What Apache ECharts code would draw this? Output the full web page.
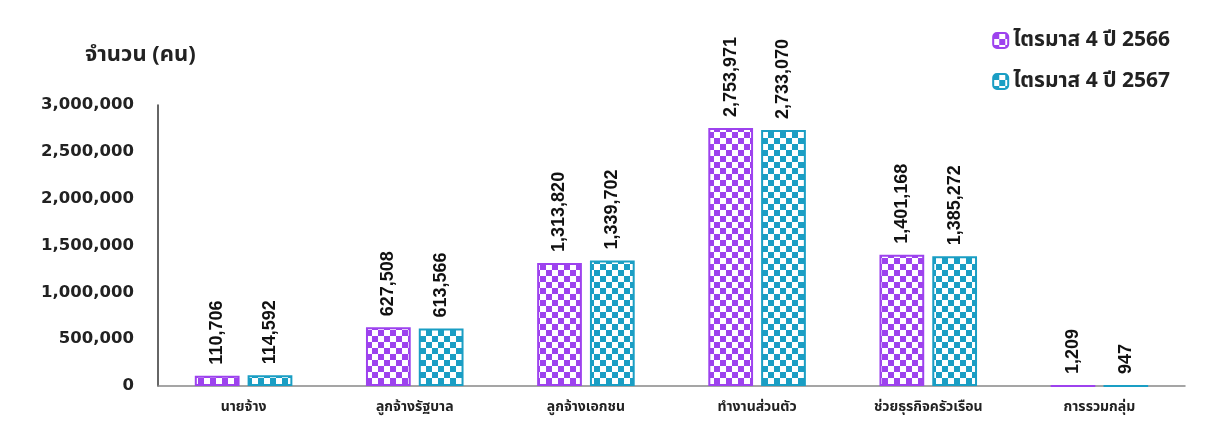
<!DOCTYPE html>
<html><head><meta charset="utf-8">
<script src="https://cdn.jsdelivr.net/npm/echarts@6/dist/echarts.min.js"></script>
<style>html,body{margin:0;padding:0;background:#fff}#c{width:1221px;height:421px}</style>
</head><body><div id="c"></div>
<script>
const categories = ['นายจ้าง','ลูกจ้างรัฐบาล','ลูกจ้างเอกชน','ทำงานส่วนตัว','ช่วยธุรกิจครัวเรือน','การรวมกลุ่ม'];
const seriesNames = ['ไตรมาส 4 ปี 2566','ไตรมาส 4 ปี 2567'];
const values2566 = [110706, 627508, 1313820, 2753971, 1401168, 1209];
const values2567 = [114592, 613566, 1339702, 2733070, 1385272, 947];
const yTicks = [0, 500000, 1000000, 1500000, 2000000, 2500000, 3000000];

function checker(color){
  const c = document.createElement('canvas');
  c.width = 12; c.height = 12;
  const g = c.getContext('2d');
  g.fillStyle = '#ffffff'; g.fillRect(0,0,12,12);
  g.fillStyle = color;
  g.fillRect(0,0,6,6); g.fillRect(6,6,6,6);
  return c;
}
const purple = '#9d42ee', teal = '#1a9ec4';
const FONT = '"Noto Sans", "Noto Sans Thai", "DejaVu Sans", sans-serif';
const chart = echarts.init(document.getElementById('c'));
function mkSeries(name, data, col){
  return {
    name, type:'bar', data,
    barGap:'18%', barCategoryGap:'43%',
    itemStyle:{color:{image:checker(col), repeat:'repeat'}, borderColor:col, borderWidth:2},
    label:{show:true, position:'top', rotate:90, align:'left', verticalAlign:'middle', distance:11,
      fontFamily:'"Liberation Sans Narrow", "Liberation Sans", sans-serif', fontWeight:'bold', fontSize:18, color:'#111',
      formatter:p=>p.value.toLocaleString('en-US')}
  };
}
chart.setOption({
  animation:false,
  textStyle:{fontFamily:FONT},
  grid:{left:158, right:36, top:105, bottom:35},
  legend:{orient:'vertical', right:46, top:25, itemWidth:15, itemHeight:15, itemGap:20,
    textStyle:{fontFamily:FONT, fontWeight:'bold', fontSize:21, color:'#222'}, data:seriesNames},
  graphic:[{type:'text', left:85, top:44, style:{text:'จำนวน (คน)', font:'bold 22px '+FONT, fill:'#222'}}],
  xAxis:{type:'category', data:categories,
    axisLine:{lineStyle:{color:'#888', width:1.5}}, axisTick:{show:false},
    axisLabel:{fontFamily:FONT, fontWeight:'bold', fontSize:14, color:'#222', margin:14}},
  yAxis:{type:'value', min:0, max:3000000, interval:500000,
    axisLine:{show:true, lineStyle:{color:'#333', width:1.5}}, axisTick:{show:false}, splitLine:{show:false},
    axisLabel:{fontFamily:'"DejaVu Sans", sans-serif', fontWeight:'bold', fontSize:16.5, color:'#222', margin:24,
      formatter:v=>v.toLocaleString('en-US')}},
  series:[mkSeries(seriesNames[0], values2566, purple), mkSeries(seriesNames[1], values2567, teal)]
});
</script></body></html>
